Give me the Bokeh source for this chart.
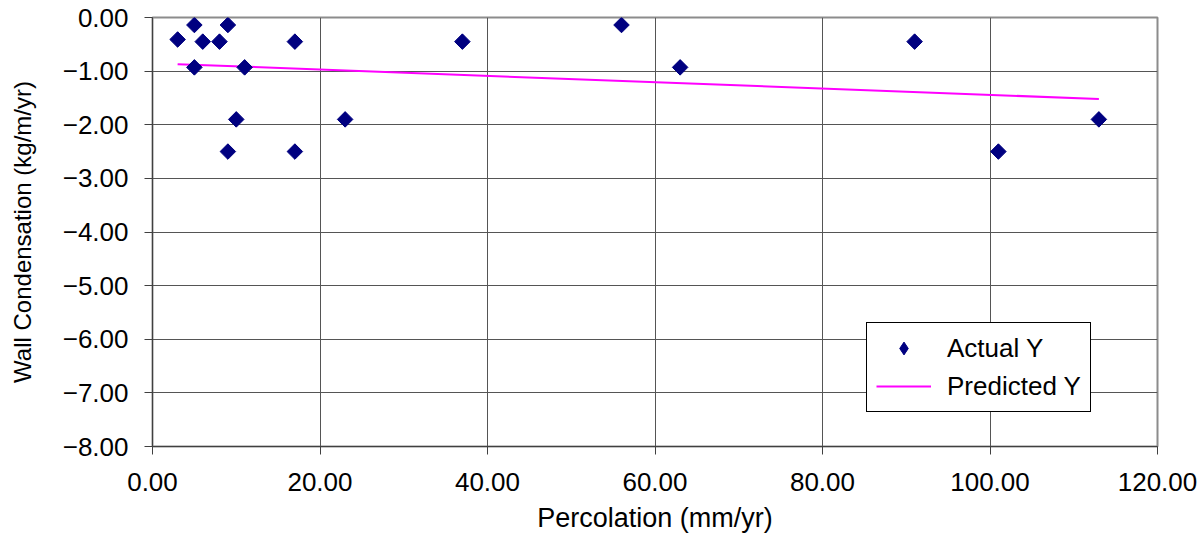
import math
from bokeh.plotting import figure
from bokeh.models import Range1d, FixedTicker, CustomJSTickFormatter, Legend, LegendItem
from bokeh.embed import file_html
from bokeh.resources import INLINE

# Data
actual_x = [3, 5, 9, 6, 8, 17, 5, 11, 10, 23, 9, 17, 37, 56, 63, 91, 101, 113]
actual_y = [-0.41, -0.14, -0.14, -0.45, -0.45, -0.45, -0.93, -0.93, -1.90, -1.90, -2.50, -2.50,
            -0.45, -0.14, -0.93, -0.45, -2.50, -1.90]
pred_x = [3, 113]
pred_y = [-0.87, -1.52]
x_ticks = [0, 20, 40, 60, 80, 100, 120]
y_ticks = [0, -1, -2, -3, -4, -5, -6, -7, -8]

FONT = "Liberation Sans"

p = figure(width=1202, height=537, output_backend="svg", toolbar_location=None,
           x_range=Range1d(0, 120), y_range=Range1d(-8, 0),
           min_border_left=152, min_border_right=45, min_border_top=17, min_border_bottom=91)
p.background_fill_color = "white"
p.border_fill_color = "white"
p.outline_line_color = "#8c8c8c"
p.outline_line_width = 2

fmt = CustomJSTickFormatter(code="""
    var s = Math.abs(tick).toFixed(2);
    return (tick < -1e-9 ? '\u2212' : '') + s;
""")

for ax in (p.xaxis[0], p.yaxis[0]):
    ax.formatter = fmt
    ax.major_label_text_font = FONT
    ax.major_label_text_font_size = "26px"
    ax.major_label_text_color = "black"
    ax.axis_label_text_font = FONT
    ax.axis_label_text_font_style = "normal"
    ax.axis_label_text_color = "black"
    ax.axis_line_color = "#404040"
    ax.axis_line_width = 1
    ax.major_tick_line_color = "#404040"
    ax.major_tick_out = 8
    ax.major_tick_in = 0
    ax.minor_tick_out = 0
    ax.minor_tick_in = 0

p.xaxis.ticker = FixedTicker(ticks=x_ticks)
p.yaxis.ticker = FixedTicker(ticks=y_ticks)
p.xaxis.axis_label = "Percolation (mm/yr)"
p.yaxis.axis_label = "Wall Condensation (kg/m/yr)"
p.xaxis.axis_label_text_font_size = "27px"
p.yaxis.axis_label_text_font_size = "24px"
p.xaxis.major_label_standoff = 18
p.yaxis.major_label_standoff = 16
p.xaxis.axis_label_standoff = 9
p.yaxis.axis_label_standoff = 24

p.xgrid.ticker = FixedTicker(ticks=x_ticks)
p.ygrid.ticker = FixedTicker(ticks=y_ticks)
p.xgrid.grid_line_color = "#555555"
p.ygrid.grid_line_color = "#555555"
p.xgrid.grid_line_width = 1
p.ygrid.grid_line_width = 1

line_r = p.line(pred_x, pred_y, line_color="#ff00ff", line_width=2)
# diamond glyph used for the legend entry; drawn under the rotated squares (fully hidden)
proxy_r = p.scatter(actual_x, actual_y, marker="diamond", size=14,
                    fill_color="#000080", line_color="#000080")
pts_r = p.scatter(actual_x, actual_y, marker="square", angle=math.pi / 4, size=11,
                  fill_color="#000080", line_color="#000080")

legend = Legend(items=[LegendItem(label="Actual Y", renderers=[proxy_r]),
                       LegendItem(label="Predicted Y", renderers=[line_r])],
                location=(714, 34))
legend.label_text_font = FONT
legend.label_text_font_size = "26px"
legend.label_text_color = "black"
legend.border_line_color = "black"
legend.border_line_width = 1
legend.border_line_alpha = 1
legend.background_fill_color = "white"
legend.background_fill_alpha = 1
legend.glyph_width = 55
legend.glyph_height = 32
legend.label_standoff = 16
legend.padding = 9
legend.spacing = 6
legend.margin = 0
p.add_layout(legend, "center")

open("out.html", "w").write(file_html(p, INLINE))
